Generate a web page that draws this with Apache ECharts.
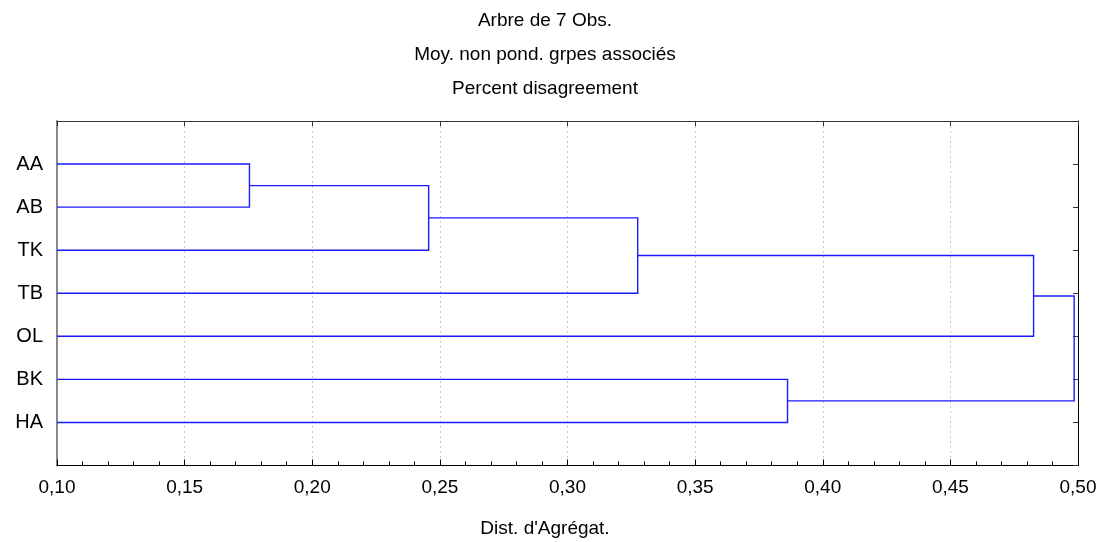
<!DOCTYPE html>
<html>
<head>
<meta charset="utf-8">
<script src="https://cdn.jsdelivr.net/npm/echarts@6/dist/echarts.min.js"></script>
<style>
  html, body { margin: 0; padding: 0; background: #fff; }
  #chart { width: 1104px; height: 542px; }
</style>
</head>
<body>
<div id="chart"></div>
<script>
// feuilles, de haut en bas
const leaves = ['AA', 'AB', 'TK', 'TB', 'OL', 'BK', 'HA']
// fusions : index des noeuds (0..6 = feuilles, 7+ = groupes créés)
const mergeLeft = [0, 7, 8, 9, 5, 10]
const mergeRight = [1, 2, 3, 4, 6, 11]
const mergeDist = [0.1754, 0.2456, 0.3275, 0.4826, 0.3862, 0.4985]
const xTicks = [0.10, 0.15, 0.20, 0.25, 0.30, 0.35, 0.40, 0.45, 0.50]

const fontFam = '"Liberation Sans", Arial, sans-serif'

// position de chaque noeud (x = distance, y = rang)
let nodeX = leaves.map(() => xTicks[0])
let nodeY = leaves.map((l, i) => i + 1)
let branches = []
mergeDist.forEach((d, k) => {
  const a = mergeLeft[k]
  const b = mergeRight[k]
  branches.push({
    coords: [
      [nodeX[a], nodeY[a]],
      [d, nodeY[a]],
      [d, nodeY[b]],
      [nodeX[b], nodeY[b]]
    ]
  })
  nodeX.push(d)
  nodeY.push((nodeY[a] + nodeY[b]) / 2)
})

const chart = echarts.init(document.getElementById('chart'))
const option = {
  backgroundColor: '#fff',
  animation: false,
  title: [
    {
      text: 'Arbre de 7 Obs.\nMoy. non pond. grpes associés\nPercent disagreement',
      left: 540,
      top: -1,
      textAlign: 'center',
      textStyle: { fontFamily: fontFam, fontSize: 19, fontWeight: 'normal', color: '#000', lineHeight: 34 }
    },
    {
      text: "Dist. d'Agrégat.",
      left: 540,
      top: 514,
      textAlign: 'center',
      textStyle: { fontFamily: fontFam, fontSize: 19, fontWeight: 'normal', color: '#000' }
    }
  ],
  grid: { left: 57, right: 26, top: 121, bottom: 76.5, containLabel: false },
  xAxis: [
    {
      type: 'value',
      min: 0.1,
      max: 0.5,
      interval: 0.05,
      position: 'bottom',
      axisLine: { show: true, onZero: false, lineStyle: { color: '#000', width: 1 } },
      axisTick: { show: true, inside: true, length: 6, lineStyle: { color: '#000' } },
      minorTick: { show: true, splitNumber: 5, length: 4, lineStyle: { color: '#000' } },
      axisLabel: {
        margin: 13,
        fontFamily: fontFam,
        fontSize: 19,
        color: '#000',
        formatter: v => v.toFixed(2).replace('.', ',')
      },
      splitLine: { show: true, lineStyle: { color: '#c8c8c8', type: [2, 3], width: 1 } }
    },
    {
      type: 'value',
      min: 0.1,
      max: 0.5,
      interval: 0.05,
      position: 'top',
      axisLine: { show: true, onZero: false, lineStyle: { color: '#333', width: 1 } },
      axisTick: { show: true, inside: true, length: 5, lineStyle: { color: '#333' } },
      axisLabel: { show: false },
      splitLine: { show: false }
    }
  ],
  yAxis: [
    {
      type: 'value',
      min: 0,
      max: 8,
      interval: 1,
      inverse: true,
      position: 'left',
      axisLine: { show: true, onZero: false, lineStyle: { color: '#888', width: 2 } },
      axisTick: { show: false },
      axisLabel: {
        margin: 14,
        fontFamily: fontFam,
        fontSize: 20,
        color: '#000',
        formatter: v => leaves[v - 1] || ''
      },
      splitLine: { show: false }
    },
    {
      type: 'value',
      min: 0,
      max: 8,
      interval: 1,
      inverse: true,
      position: 'right',
      axisLine: { show: true, onZero: false, lineStyle: { color: '#000', width: 1 } },
      axisTick: { show: true, inside: true, length: 5, lineStyle: { color: '#333' } },
      axisLabel: { show: false },
      splitLine: { show: false }
    }
  ],
  series: [
    {
      type: 'lines',
      coordinateSystem: 'cartesian2d',
      xAxisIndex: 0,
      yAxisIndex: 0,
      polyline: true,
      data: branches,
      lineStyle: { color: '#1a1aff', width: 1.4, opacity: 1 },
      silent: true,
      animation: false
    }
  ]
}
chart.setOption(option)
</script>
</body>
</html>
